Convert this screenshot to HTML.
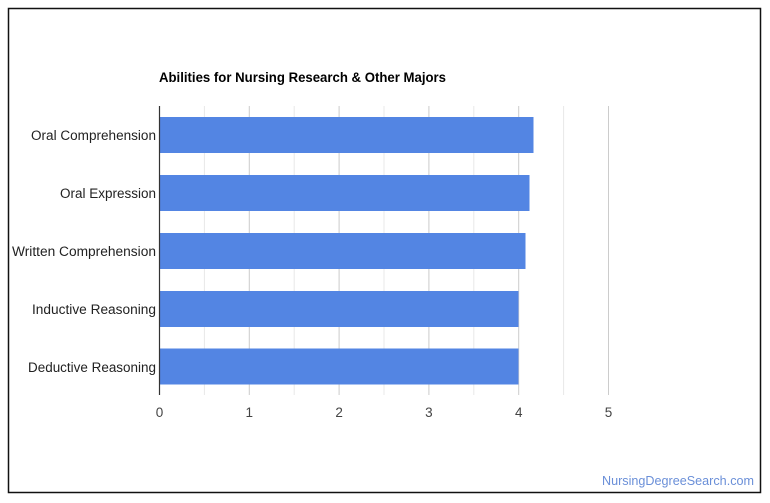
<!DOCTYPE html>
<html>
<head>
<meta charset="utf-8">
<style>
html,body{margin:0;padding:0;background:#fff;}
svg{display:block;}
text{font-family:"Liberation Sans",Arial,sans-serif;}
</style>
</head>
<body>
<svg width="770" height="503" viewBox="0 0 770 503" xmlns="http://www.w3.org/2000/svg">
<rect x="0" y="0" width="770" height="503" fill="#fff"/>
<rect x="8.5" y="8.5" width="752" height="484" fill="none" stroke="#111" stroke-width="1.5"/>
<text x="159" y="82" font-size="13.5" font-weight="bold" fill="#000" textLength="287" lengthAdjust="spacingAndGlyphs">Abilities for Nursing Research &amp; Other Majors</text>
<!-- minor gridlines -->
<g stroke="#e8e8e8" stroke-width="1">
<line x1="204.4" y1="106" x2="204.4" y2="395"/>
<line x1="294.2" y1="106" x2="294.2" y2="395"/>
<line x1="384" y1="106" x2="384" y2="395"/>
<line x1="473.8" y1="106" x2="473.8" y2="395"/>
<line x1="563.6" y1="106" x2="563.6" y2="395"/>
</g>
<g stroke="#cccccc" stroke-width="1">
<line x1="249.3" y1="106" x2="249.3" y2="395"/>
<line x1="339.1" y1="106" x2="339.1" y2="395"/>
<line x1="428.9" y1="106" x2="428.9" y2="395"/>
<line x1="518.7" y1="106" x2="518.7" y2="395"/>
<line x1="608.5" y1="106" x2="608.5" y2="395"/>
</g>
<g fill="#5385e3">
<rect x="159.5" y="117" width="374" height="36"/>
<rect x="159.5" y="175" width="370" height="36"/>
<rect x="159.5" y="233" width="366" height="36"/>
<rect x="159.5" y="291" width="359" height="36"/>
<rect x="159.5" y="348.5" width="359" height="36"/>
</g>
<line x1="159.5" y1="106" x2="159.5" y2="395" stroke="#333" stroke-width="1.2"/>
<g font-size="13.5" fill="#222" text-anchor="end">
<text x="156" y="140" textLength="125" lengthAdjust="spacingAndGlyphs">Oral Comprehension</text>
<text x="156" y="198" textLength="96" lengthAdjust="spacingAndGlyphs">Oral Expression</text>
<text x="156" y="256" textLength="144" lengthAdjust="spacingAndGlyphs">Written Comprehension</text>
<text x="156" y="314" textLength="124" lengthAdjust="spacingAndGlyphs">Inductive Reasoning</text>
<text x="156" y="372" textLength="128" lengthAdjust="spacingAndGlyphs">Deductive Reasoning</text>
</g>
<g font-size="13.5" fill="#444" text-anchor="middle">
<text x="159.5" y="417">0</text>
<text x="249.3" y="417">1</text>
<text x="339.1" y="417">2</text>
<text x="428.9" y="417">3</text>
<text x="518.7" y="417">4</text>
<text x="608.5" y="417">5</text>
</g>
<text x="754" y="485" font-size="13" fill="#6a8fd8" text-anchor="end" textLength="152" lengthAdjust="spacingAndGlyphs">NursingDegreeSearch.com</text>
</svg>
</body>
</html>
